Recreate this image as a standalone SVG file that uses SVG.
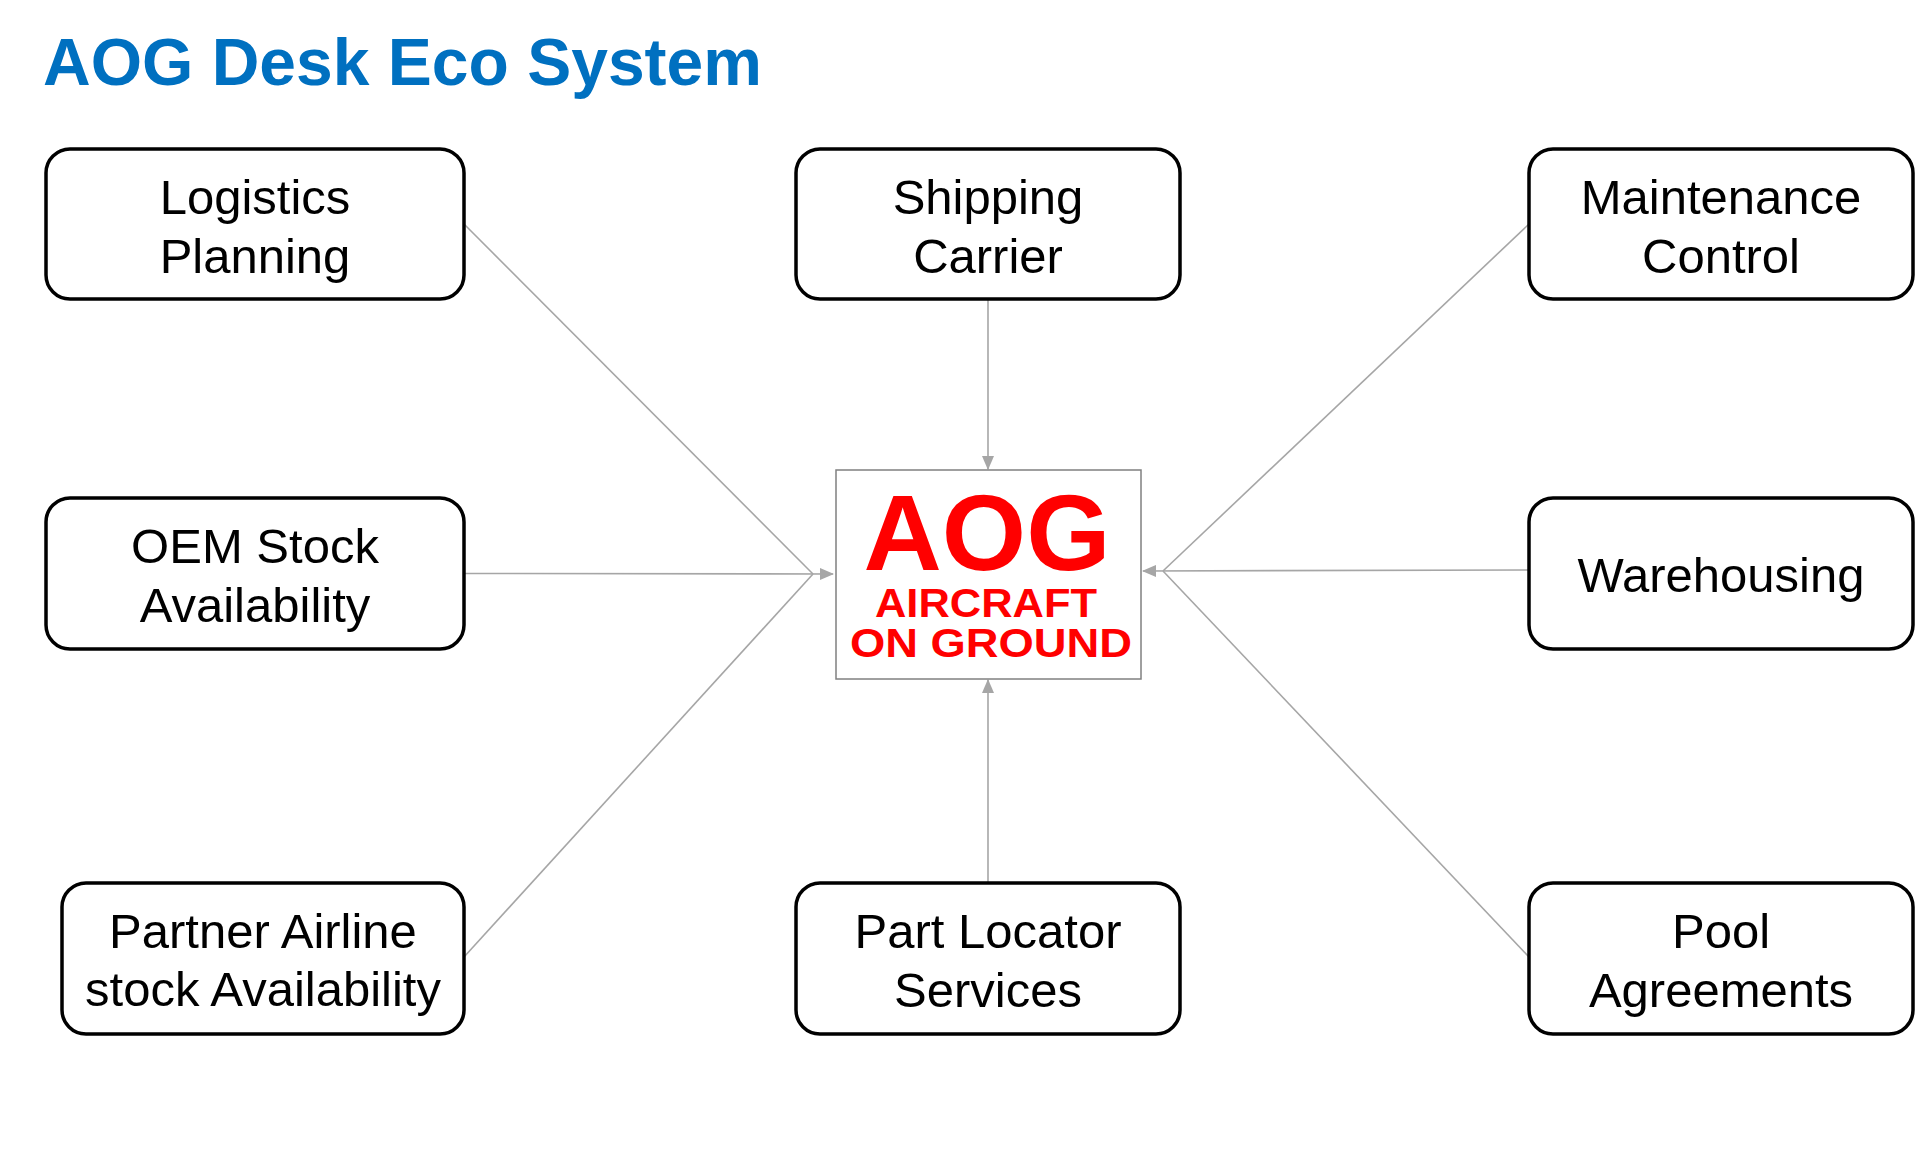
<svg xmlns="http://www.w3.org/2000/svg" width="1915" height="1150" viewBox="0 0 1915 1150">
<defs>
<marker id="arr" markerUnits="userSpaceOnUse" markerWidth="14" markerHeight="12" refX="13" refY="6" orient="auto">
<path d="M0,0 L14,6 L0,12 Z" fill="#A6A6A6"/>
</marker>
<style>
.box{fill:#FFFFFF;stroke:#000000;stroke-width:3.5}
.lbl{font-family:"Liberation Sans",Arial,sans-serif;font-size:49px;fill:#000000;text-anchor:middle}
.con{stroke:#A6A6A6;stroke-width:1.6;fill:none}
.red{font-family:"Liberation Sans",Arial,sans-serif;font-weight:bold;fill:#FF0000;text-anchor:middle}
</style>
</defs>
<rect width="1915" height="1150" fill="#FFFFFF"/>
<text x="43" y="85" font-family="Liberation Sans, Arial, sans-serif" font-weight="bold" font-size="66" fill="#0070C0">AOG Desk Eco System</text>

<g id="connectors">
<line class="con" x1="464" y1="224" x2="813" y2="574"/>
<line class="con" x1="464" y1="957" x2="813" y2="574"/>
<line class="con" x1="464" y1="573.5" x2="833" y2="574" marker-end="url(#arr)"/>
<line class="con" x1="1529" y1="224" x2="1163" y2="571"/>
<line class="con" x1="1529" y1="957" x2="1163" y2="571"/>
<line class="con" x1="1529" y1="570" x2="1143" y2="571" marker-end="url(#arr)"/>
<line class="con" x1="988" y1="300" x2="988" y2="469" marker-end="url(#arr)"/>
<line class="con" x1="988" y1="883" x2="988" y2="680" marker-end="url(#arr)"/>
</g>

<g id="aog">
<rect x="836" y="470" width="305" height="209" fill="#FFFFFF" stroke="#808080" stroke-width="1.5"/>
<text class="red" x="987" y="570" font-size="108" textLength="247" lengthAdjust="spacingAndGlyphs">AOG</text>
<text class="red" x="986" y="617" font-size="41" textLength="222" lengthAdjust="spacingAndGlyphs">AIRCRAFT</text>
<text class="red" x="991" y="657" font-size="41" textLength="282" lengthAdjust="spacingAndGlyphs">ON GROUND</text>
</g>

<g id="logistics">
<rect class="box" x="46" y="149" width="418" height="150" rx="24"/>
<text class="lbl" x="255" y="214">Logistics</text>
<text class="lbl" x="255" y="273">Planning</text>
</g>
<g id="shipping">
<rect class="box" x="796" y="149" width="384" height="150" rx="24"/>
<text class="lbl" x="988" y="214">Shipping</text>
<text class="lbl" x="988" y="273">Carrier</text>
</g>
<g id="maintenance">
<rect class="box" x="1529" y="149" width="384" height="150" rx="24"/>
<text class="lbl" x="1721" y="214">Maintenance</text>
<text class="lbl" x="1721" y="273">Control</text>
</g>
<g id="oem">
<rect class="box" x="46" y="498" width="418" height="151" rx="24"/>
<text class="lbl" x="255" y="563">OEM Stock</text>
<text class="lbl" x="255" y="622">Availability</text>
</g>
<g id="warehousing">
<rect class="box" x="1529" y="498" width="384" height="151" rx="24"/>
<text class="lbl" x="1721" y="592">Warehousing</text>
</g>
<g id="partner">
<rect class="box" x="62" y="883" width="402" height="151" rx="24"/>
<text class="lbl" x="263" y="948" font-size="46">Partner Airline</text>
<text class="lbl" x="263" y="1006" font-size="46">stock Availability</text>
</g>
<g id="partlocator">
<rect class="box" x="796" y="883" width="384" height="151" rx="24"/>
<text class="lbl" x="988" y="948">Part Locator</text>
<text class="lbl" x="988" y="1007">Services</text>
</g>
<g id="pool">
<rect class="box" x="1529" y="883" width="384" height="151" rx="24"/>
<text class="lbl" x="1721" y="948">Pool</text>
<text class="lbl" x="1721" y="1007">Agreements</text>
</g>
</svg>
